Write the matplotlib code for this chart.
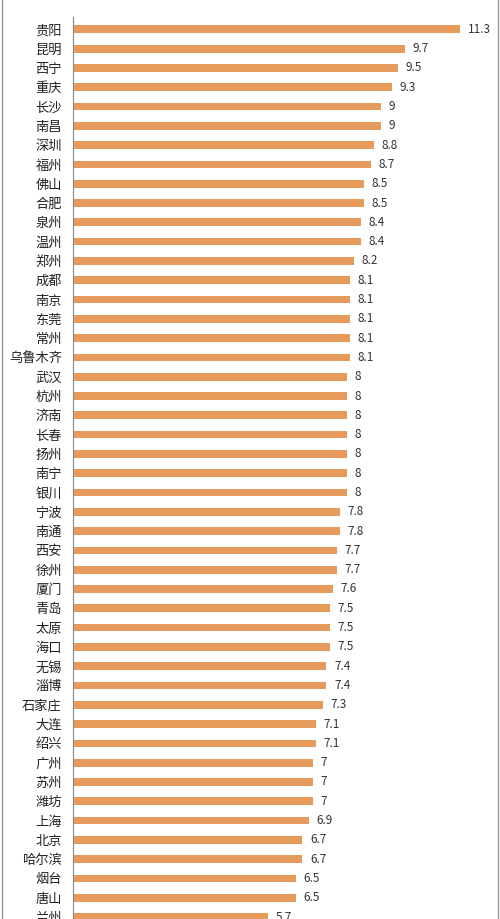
import numpy as np
import matplotlib
matplotlib.use("Agg")
import matplotlib.pyplot as plt
from matplotlib.lines import Line2D

plt.rcParams['font.family'] = ['Noto Sans CJK SC', 'DejaVu Sans']

cities = ["贵阳", "昆明", "西宁", "重庆", "长沙", "南昌", "深圳", "福州", "佛山", "合肥",
          "泉州", "温州", "郑州", "成都", "南京", "东莞", "常州", "乌鲁木齐", "武汉", "杭州",
          "济南", "长春", "扬州", "南宁", "银川", "宁波", "南通", "西安", "徐州", "厦门",
          "青岛", "太原", "海口", "无锡", "淄博", "石家庄", "大连", "绍兴", "广州", "苏州",
          "潍坊", "上海", "北京", "哈尔滨", "烟台", "唐山", "兰州"]
values = [11.3, 9.7, 9.5, 9.3, 9, 9, 8.8, 8.7, 8.5, 8.5,
          8.4, 8.4, 8.2, 8.1, 8.1, 8.1, 8.1, 8.1, 8, 8,
          8, 8, 8, 8, 8, 7.8, 7.8, 7.7, 7.7, 7.6,
          7.5, 7.5, 7.5, 7.4, 7.4, 7.3, 7.1, 7.1, 7, 7,
          7, 6.9, 6.7, 6.7, 6.5, 6.5, 5.7]

W, H = 500, 919
fig = plt.figure(figsize=(W / 100, H / 100), dpi=100)
ax = fig.add_axes([73 / W, 0, (490 - 73) / W, (919 - 17) / H])

y = np.arange(len(cities))
ax.barh(y, values, height=0.4, color="#E69A5C")

for yi, v in zip(y, values):
    ax.text(v + 0.22, yi, f"{v:g}", va="center", ha="left", fontsize=8.5, color="#333333")

ax.set_yticks(y)
ax.set_yticklabels(cities, fontsize=9.5, color="#222222")
ax.tick_params(axis="y", length=0, pad=8)
ax.set_xticks([])
ax.set_xlim(0, (490 - 73) / 34.25)
ax.set_ylim(46.1, -0.64)

for s in ["top", "right", "bottom"]:
    ax.spines[s].set_visible(False)
ax.spines["left"].set_color("#888888")
ax.spines["left"].set_linewidth(0.8)

# grey frame at the picture edges
fig.add_artist(Line2D([1.5 / W, 1.5 / W], [0, 1], color="#999999", lw=1))
fig.add_artist(Line2D([497.5 / W, 497.5 / W], [0, 1], color="#999999", lw=1))

fig.savefig("out.png", dpi=100)
